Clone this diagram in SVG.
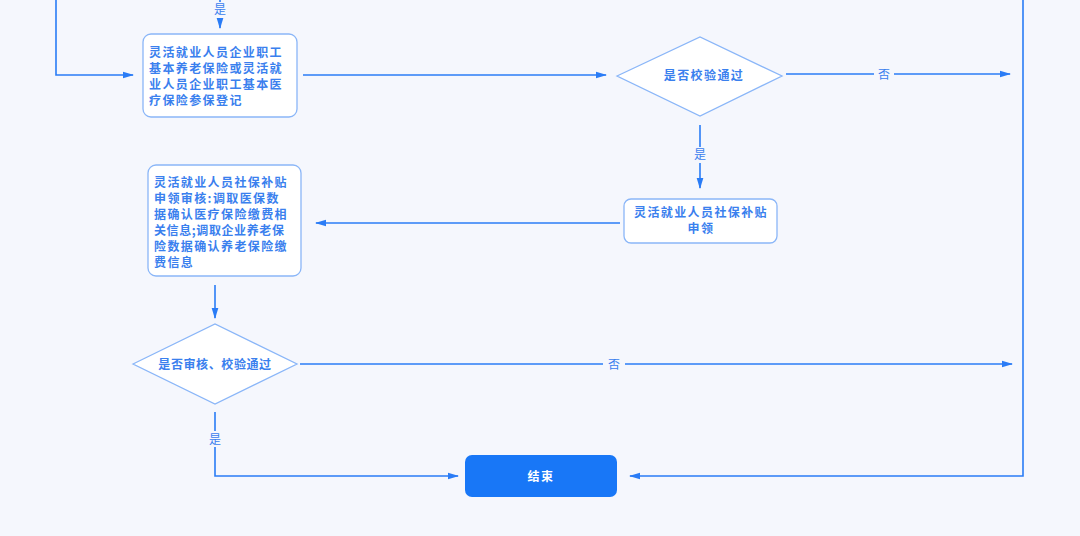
<svg xmlns="http://www.w3.org/2000/svg" width="1080" height="536" viewBox="0 0 1080 536">
<style>
text{font-family:"Noto Sans CJK SC","Noto Sans",sans-serif;font-weight:bold;font-size:12px;letter-spacing:1.4px;fill:#3a80ee}
.l{fill:none;stroke:#2a7cf6;stroke-width:1.6}
.n{fill:#fff;stroke:#8ab6f8;stroke-width:1.3}
.lb{font-weight:normal;letter-spacing:0}
</style>
<defs><marker id="a" viewBox="0 0 10 10" refX="9" refY="5" markerWidth="7" markerHeight="7" orient="auto"><path d="M0,2 L10,5 L0,8 z" fill="#2a7cf6"/></marker></defs>
<rect width="1080" height="536" fill="#f5f7fd"/>
<g id="connectors">
<path class="l" d="M56,0 V75 H133" marker-end="url(#a)"/>
<path class="l" d="M220,0 V28" marker-end="url(#a)"/>
<path class="l" d="M303,75 H606" marker-end="url(#a)"/>
<path class="l" d="M786,74 H1010" marker-end="url(#a)"/>
<path class="l" d="M700,125 V188" marker-end="url(#a)"/>
<path class="l" d="M620,223 H316" marker-end="url(#a)"/>
<path class="l" d="M215,285 V318" marker-end="url(#a)"/>
<path class="l" d="M300,364 H1012" marker-end="url(#a)"/>
<path class="l" d="M215,412 V476 H458" marker-end="url(#a)"/>
<path class="l" d="M1023,0 V476 H630" marker-end="url(#a)"/>
<rect x="210" y="2" width="20" height="16" fill="#f5f7fd"/><text class="lb" x="220" y="14" text-anchor="middle">是</text>
<rect x="874" y="66" width="20" height="16" fill="#f5f7fd"/><text class="lb" x="884" y="79" text-anchor="middle">否</text>
<rect x="690" y="147" width="20" height="16" fill="#f5f7fd"/><text class="lb" x="700" y="159" text-anchor="middle">是</text>
<rect x="603" y="356" width="22" height="16" fill="#f5f7fd"/><text class="lb" x="614" y="369" text-anchor="middle">否</text>
<rect x="205" y="431" width="20" height="16" fill="#f5f7fd"/><text class="lb" x="215" y="444" text-anchor="middle">是</text>
</g>
<g id="n1"><rect class="n" x="143" y="34" width="154" height="83" rx="8"/>
<text x="149" y="57">灵活就业人员企业职工</text><text x="149" y="73">基本养老保险或灵活就</text><text x="149" y="89">业人员企业职工基本医</text><text x="149" y="105">疗保险参保登记</text></g>
<g id="d1"><polygon class="n" points="617,76 700,37 782,76 700,116"/><text x="704" y="80" text-anchor="middle">是否校验通过</text></g>
<g id="n2"><rect class="n" x="624" y="199" width="153" height="44" rx="7"/>
<text x="701" y="217" text-anchor="middle">灵活就业人员社保补贴</text><text x="701" y="233" text-anchor="middle">申领</text></g>
<g id="n3"><rect class="n" x="148" y="165" width="153" height="111" rx="8"/>
<text x="154" y="187">灵活就业人员社保补贴</text><text x="154" y="203">申领审核:调取医保数</text><text x="154" y="219">据确认医疗保险缴费相</text><text x="154" y="235" style="letter-spacing:0.6px">关信息;调取企业养老保</text><text x="154" y="251">险数据确认养老保险缴</text><text x="154" y="267">费信息</text></g>
<g id="d2"><polygon class="n" points="133,364 215,324 297,364 215,404"/><text x="215" y="369" text-anchor="middle" style="letter-spacing:0.6px">是否审核、校验通过</text></g>
<g id="end"><rect x="465" y="455" width="152" height="42" rx="7" fill="#1877f7"/><text x="541" y="481" text-anchor="middle" style="fill:#fff">结束</text></g>
</svg>
